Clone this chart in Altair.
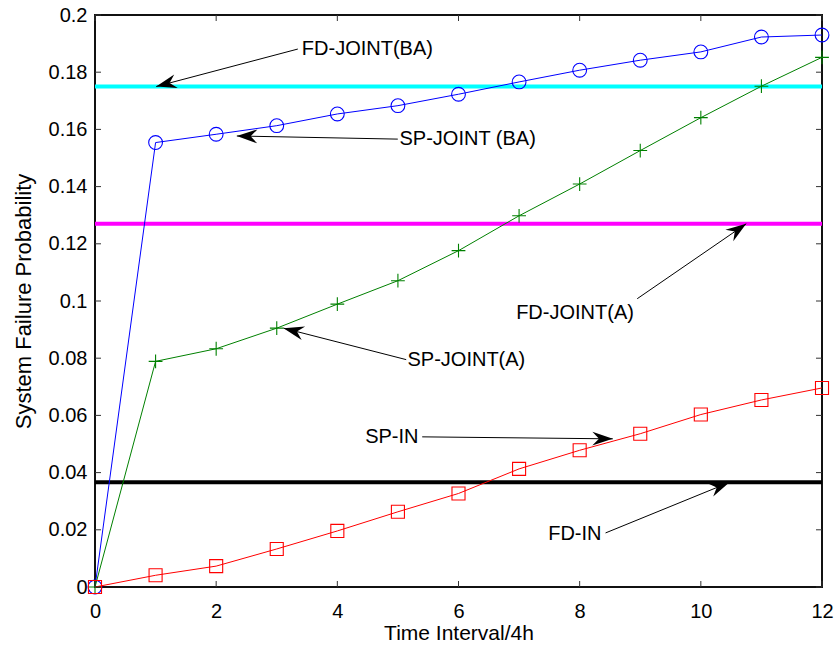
import math
import altair as alt
import pandas as pd

# ---------------- data ----------------
time_steps = list(range(13))
sp_joint_ba = [0, 0.1554, 0.1583, 0.1613, 0.1654, 0.1683, 0.1723, 0.1766, 0.1807, 0.1842, 0.1871, 0.1923, 0.1930]
sp_joint_a = [0, 0.0789, 0.0833, 0.0905, 0.0989, 0.1071, 0.1176, 0.1298, 0.1409, 0.1526, 0.1641, 0.1751, 0.1852]
sp_in = [0, 0.0041, 0.0073, 0.0133, 0.0196, 0.0263, 0.0327, 0.0413, 0.0478, 0.0536, 0.0603, 0.0654, 0.0696]

fd_names = ["FD-JOINT(BA)", "FD-JOINT(A)", "FD-IN"]
fd_values = [0.175, 0.127, 0.0366]
fd_colors = ["#00FFFF", "#FF00FF", "#000000"]

ann_text = ["FD-JOINT(BA)", "SP-JOINT (BA)", "FD-JOINT(A)", "SP-JOINT(A)", "SP-IN", "FD-IN"]
ann_text_x = [3.414, 5.026, 7.923, 5.158, 5.340, 8.361]
ann_text_y = [0.1881, 0.1567, 0.0958, 0.0795, 0.0525, 0.0187]
ann_align = ["left", "left", "center", "left", "right", "right"]
arrow_tail_x = [3.348, 4.998, 8.950, 5.137, 5.401, 8.427]
arrow_tail_y = [0.1881, 0.1566, 0.1008, 0.0795, 0.0525, 0.0189]
arrow_tip_x = [1.010, 2.341, 10.749, 3.112, 8.547, 10.474]
arrow_tip_y = [0.1750, 0.1577, 0.1270, 0.0905, 0.0518, 0.0366]

x_ticks = [0, 2, 4, 6, 8, 10, 12]
y_ticks = [0, 0.02, 0.04, 0.06, 0.08, 0.1, 0.12, 0.14, 0.16, 0.18, 0.2]

# ---------------- layout ----------------
W, H = 727, 572
FONT = "Liberation Sans"

xscale = alt.Scale(domain=[0, 12], nice=False, zero=False)
yscale = alt.Scale(domain=[0, 0.2], nice=False, zero=False)
xaxis = alt.Axis(values=x_ticks, title="Time Interval/4h", format="d", labelFlush=False,
                 labelOverlap=False, labelPadding=14, titlePadding=1, titleFontSize=21,
                 ticks=False, domain=False, grid=False)
yaxis = alt.Axis(values=y_ticks, title="System Failure Probability", format=".2~f", labelFlush=False,
                 labelOverlap=False, labelPadding=8, titlePadding=13, titleFontSize=22,
                 ticks=False, domain=False, grid=False)


def X(field):
    return alt.X(field, type="quantitative", scale=xscale, axis=xaxis)


def Y(field):
    return alt.Y(field, type="quantitative", scale=yscale, axis=yaxis)


layers = []

# reference (FD) horizontal lines
fd_df = pd.DataFrame({"name": fd_names, "value": fd_values, "color": fd_colors})
for n, v, c in zip(fd_names, fd_values, fd_colors):
    d = fd_df[fd_df["name"] == n]
    layers.append(alt.Chart(d).mark_rule(color=c, strokeWidth=4).encode(y=Y("value")))

# SP series
series = [
    (sp_joint_ba, "#0000FF", "circle"),
    (sp_joint_a, "#008000", "M-1,0L1,0M0,-1L0,1"),
    (sp_in, "#FF0000", "square"),
]
for vals, col, shp in series:
    d = pd.DataFrame({"t": time_steps, "p": vals})
    base = alt.Chart(d).encode(x=X("t"), y=Y("p"))
    layers.append(base.mark_line(color=col, strokeWidth=1))
    size = 190 if shp != "square" else 170
    layers.append(base.mark_point(shape=shp, filled=False, color=col, size=size,
                                  strokeWidth=1.1, opacity=1))

# arrows
px_x = W / 12.0
px_y = H / 0.2
angles = []
for x0, y0, x1, y1 in zip(arrow_tail_x, arrow_tail_y, arrow_tip_x, arrow_tip_y):
    dx = (x1 - x0) * px_x
    dy = -(y1 - y0) * px_y
    angles.append(math.degrees(math.atan2(dy, dx)) % 360)

arr_df = pd.DataFrame({"x0": arrow_tail_x, "y0": arrow_tail_y, "x1": arrow_tip_x,
                       "y1": arrow_tip_y, "ang": angles})
layers.append(alt.Chart(arr_df).mark_rule(color="black", strokeWidth=1).encode(
    x=X("x0"), y=Y("y0"), x2="x1", y2="y1"))
layers.append(alt.Chart(arr_df).mark_point(
    shape="M0,0L-2,-0.68L-1.35,0L-2,0.68Z", filled=True, color="black", size=420, opacity=1,
    strokeWidth=0).encode(x=X("x1"), y=Y("y1"), angle=alt.Angle("ang:Q", scale=None)))

# annotation texts
txt_df = pd.DataFrame({"label": ann_text, "tx": ann_text_x, "ty": ann_text_y, "align": ann_align})
for al in ["left", "center", "right"]:
    d = txt_df[txt_df["align"] == al]
    layers.append(alt.Chart(d).mark_text(align=al, baseline="middle", font=FONT, fontSize=20,
                                         color="black").encode(x=X("tx"), y=Y("ty"), text="label:N"))

# inward tick marks (Matlab style)
xt = pd.DataFrame({"v": x_ticks})
yt = pd.DataFrame({"v": y_ticks})
tick_col = "#333333"
layers.append(alt.Chart(xt).mark_rule(color=tick_col, strokeWidth=1).encode(
    x=X("v"), y=alt.value(H), y2=alt.value(H - 6)))
layers.append(alt.Chart(xt).mark_rule(color=tick_col, strokeWidth=1).encode(
    x=X("v"), y=alt.value(0), y2=alt.value(6)))
layers.append(alt.Chart(yt).mark_rule(color=tick_col, strokeWidth=1).encode(
    y=Y("v"), x=alt.value(0), x2=alt.value(6)))
layers.append(alt.Chart(yt).mark_rule(color=tick_col, strokeWidth=1).encode(
    y=Y("v"), x=alt.value(W), x2=alt.value(W - 6)))

chart = alt.layer(*layers).properties(
    width=W, height=H,
    autosize=alt.AutoSizeParams(type="none"),
    padding={"left": 95, "top": 15, "right": 17, "bottom": 62},
    background="white",
).configure_view(
    stroke="#111111", strokeWidth=2
).configure_axis(
    labelFont=FONT, labelFontSize=20, labelColor="black",
    titleFont=FONT, titleColor="black", titleFontWeight="normal",
)

chart.save("out.html", embed_options={"renderer": "svg", "actions": False})
